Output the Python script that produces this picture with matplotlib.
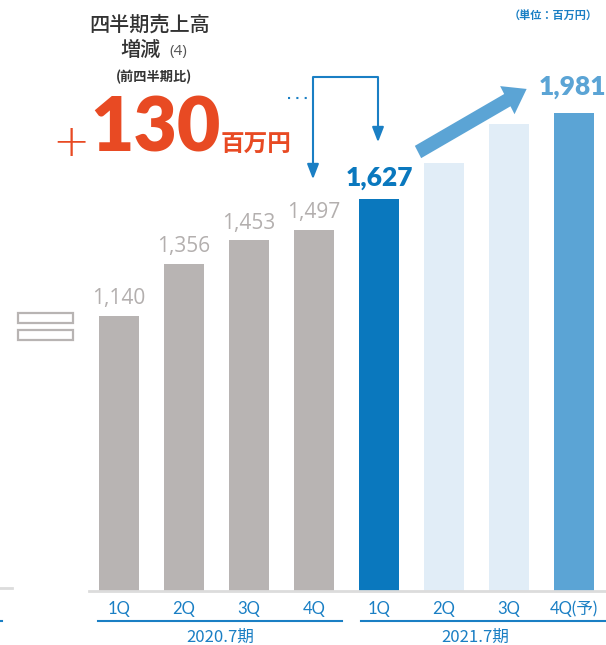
import matplotlib.pyplot as plt
from matplotlib.patches import Rectangle, FancyArrow
from matplotlib.lines import Line2D

# data
quarters = ['1Q', '2Q', '3Q', '4Q', '1Q', '2Q', '3Q', '4Q(予)']
sales = [1140, 1356, 1453, 1497, 1627, 1775, 1935, 1981]
labels = ['1,140', '1,356', '1,453', '1,497', '1,627', '', '', '1,981']
periods = ['2020.7期', '2021.7期']

W, H = 606, 645
GRAY = '#b8b4b3'
BLUE = '#0a78be'
LIGHT = '#e1edf7'
MID = '#5ba4d5'
RED = '#e84a23'
TXT = '#1a7fc4'
JP = ['Noto Sans CJK JP', 'DejaVu Sans']
NUM = ['Lato', 'Noto Sans CJK JP', 'DejaVu Sans']
THIN = ['Open Sans', 'DejaVu Sans']

def P(x, y):
    # pixel -> figure fraction
    return (x / W, 1 - y / H)

fig = plt.figure(figsize=(W / 100, H / 100), dpi=100)
ax = fig.add_axes([0, 0, 1, 1])
s = 275 / 1140  # px per unit
ax.set_xlim(-119 / 65, (W - 119) / 65)
ax.set_ylim(-(H - 591) / s, 591 / s)
ax.axis('off')

colors = [GRAY] * 4 + [BLUE, LIGHT, LIGHT, MID]
xs = list(range(len(sales)))
ax.bar(xs, sales, width=0.63, color=colors, zorder=2)

# baseline
fig.add_artist(Line2D([89 / W, 1], [1 - 591 / H] * 2, color='#dcdcdc', lw=2))
fig.add_artist(Line2D([0, 12 / W], [1 - 588 / H] * 2, color='#dcdcdc', lw=2))

# value labels
for i, (v, lab) in enumerate(zip(sales, labels)):
    if not lab:
        continue
    if i < 4:
        ax.annotate(lab, (i, v), xytext=(0, 5), textcoords='offset points',
                    ha='center', va='bottom', fontsize=15, color='#b3afae',
                    family=THIN, fontweight='normal')
    elif i == 4:
        ax.annotate(lab, (i, v), xytext=(0, 6), textcoords='offset points',
                    ha='center', va='bottom', fontsize=19, color=BLUE,
                    family=NUM, fontweight='heavy')
    else:
        ax.annotate(lab, (i - 0.02, v), xytext=(0, 10), textcoords='offset points',
                    ha='center', va='bottom', fontsize=19, color=MID,
                    family=NUM, fontweight='heavy')

# x labels
for i, q in enumerate(quarters):
    ax.annotate(q, (i, 0), xytext=(0, -7), textcoords='offset points',
                ha='center', va='top', fontsize=12, color=TXT, family=NUM)

# group lines and labels
fig.add_artist(Line2D([98 / W, 342 / W], [1 - 621 / H] * 2, color=TXT, lw=1.5))
fig.add_artist(Line2D([361 / W, 1], [1 - 621 / H] * 2, color=TXT, lw=1.5))
fig.add_artist(Line2D([0, 2 / W], [1 - 621 / H] * 2, color=TXT, lw=1.5))
fig.text(*P(220, 637), periods[0], ha='center', va='center', fontsize=12,
         color=TXT, family=JP)
fig.text(*P(475, 637), periods[1], ha='center', va='center', fontsize=12,
         color=TXT, family=JP)

# title texts
fig.text(*P(150, 25), '四半期売上高', ha='center', va='center', fontsize=14.5,
         color='#333333', family=JP, fontweight='medium')
fig.text(*P(141, 50), '増減', ha='center', va='center', fontsize=14.5,
         color='#333333', family=JP, fontweight='medium')
fig.text(*P(178, 51), '(4)', ha='center', va='center', fontsize=11,
         color='#555555', family=THIN)
fig.text(*P(154, 77), '(前四半期比)', ha='center', va='center', fontsize=9.5,
         color='#333333', family=JP, fontweight='bold')
fig.text(*P(71, 143), '+', ha='center', va='center', fontsize=32,
         color=RED, family=['DejaVu Sans'], fontweight='light')
fig.text(*P(155, 130), '130', ha='center', va='center', fontsize=54,
         color=RED, family=NUM, fontweight='heavy')
fig.text(*P(256, 145), '百万円', ha='center', va='center', fontsize=17,
         color=RED, family=JP, fontweight='bold')
fig.text(*P(598, 15), '（単位：百万円）', ha='right', va='center', fontsize=8,
         color=TXT, family=JP, fontweight='bold')

# equals sign
for y0 in (313, 330):
    fig.add_artist(Rectangle(P(18, y0 + 10), 55 / W, 10 / H, transform=fig.transFigure,
                             fill=False, edgecolor=GRAY, lw=1.6))

# bracket arrow
bx1, bx2, by = 313, 378, 77
fig.add_artist(Line2D([bx1 / W, bx1 / W, bx2 / W, bx2 / W],
                      [1 - 172 / H, 1 - by / H, 1 - by / H, 1 - 135 / H],
                      color=TXT, lw=1.5))
for x0, y0 in ((bx1, 182), (bx2, 145)):
    ax.annotate('', xy=P(x0, y0), xytext=P(x0, y0 - 14), xycoords='figure fraction',
                textcoords='figure fraction',
                arrowprops=dict(arrowstyle='-|>,head_width=0.35,head_length=0.9',
                                color=TXT, lw=1.5))
fig.add_artist(Line2D([288 / W, 311 / W], [1 - 98 / H] * 2, color=TXT, lw=1.5,
                      linestyle=(0, (1, 3))))

# big arrow
x0, y0 = P(418, 152)
x1, y1 = P(530, 87)
fig.add_artist(FancyArrow(x0, y0, (x1 - x0) * 0.97, (y1 - y0) * 0.97,
                          width=14 / H, head_width=32 / H, head_length=22 / W,
                          length_includes_head=True, transform=fig.transFigure,
                          color=MID, lw=0))

fig.savefig('out.png', dpi=100)
